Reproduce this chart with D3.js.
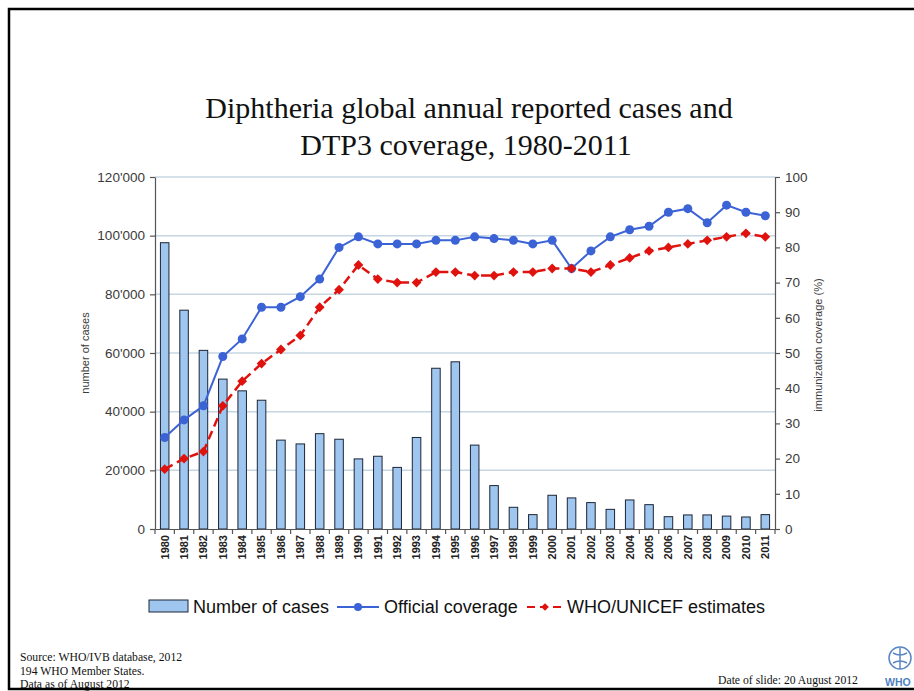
<!DOCTYPE html>
<html>
<head>
<meta charset="utf-8">
<script src="https://cdn.jsdelivr.net/npm/d3@7"></script>
<style>
  body { margin: 0; background: #fff; }
  svg { display: block; }
</style>
</head>
<body>
<script>
var width = 914;
var height = 691;

var margin = {top: 177, left: 155, right: 139, bottom: 162};

// data
var years = ["1980","1981","1982","1983","1984","1985","1986","1987","1988","1989",
             "1990","1991","1992","1993","1994","1995","1996","1997","1998","1999",
             "2000","2001","2002","2003","2004","2005","2006","2007","2008","2009",
             "2010","2011"];

var cases = [97600, 74600, 60900, 51100, 47100, 43900, 30300, 29000, 32500, 30600,
             23900, 24800, 21000, 31200, 54800, 57000, 28600, 14800, 7400, 4900,
             11500, 10600, 9000, 6700, 9900, 8300, 4200, 4800, 4800, 4400,
             4100, 4900];

var officialCoverage = [26, 31, 35, 49, 54, 63, 63, 66, 71, 80,
                        83, 81, 81, 81, 82, 82, 83, 82.5, 82, 81,
                        82, 74, 79, 83, 85, 86, 90, 91, 87, 92,
                        90, 89];

var whoUnicefEstimates = [17, 20, 22, 35, 42, 47, 51, 55, 63, 68,
                          75, 71, 70, 70, 73, 73, 72, 72, 73, 73,
                          74, 74, 73, 75, 77, 79, 80, 81, 82, 83,
                          84, 83];

var caseTicks = [0, 20000, 40000, 60000, 80000, 100000, 120000];
var coverageTicks = [0, 10, 20, 30, 40, 50, 60, 70, 80, 90, 100];

var svg = d3.select("body")
  .append("svg")
  .attr("width", width)
  .attr("height", height)
  .style("font-family", "'Liberation Sans', Arial, sans-serif");

// slide frame
svg.append("path")
  .attr("d", "M914,9 H9 V689 H914")
  .attr("fill", "none")
  .attr("stroke", "#000")
  .attr("stroke-width", 2.5);

// title
var title = svg.append("text")
  .attr("text-anchor", "middle")
  .style("font-family", "'Liberation Serif', 'Times New Roman', serif")
  .style("font-size", "30px")
  .attr("fill", "#111");
title.append("tspan").attr("x", 469).attr("y", 118)
  .text("Diphtheria global annual  reported cases and");
title.append("tspan").attr("x", 466).attr("y", 155)
  .text("DTP3 coverage, 1980-2011");

var xScale = d3.scaleBand()
  .domain(years)
  .range([margin.left, width - margin.right]);

var yCases = d3.scaleLinear()
  .domain([0, 120000])
  .range([height - margin.bottom, margin.top]);

var yCov = d3.scaleLinear()
  .domain([0, 100])
  .range([height - margin.bottom, margin.top]);

// gridlines
svg.append("g")
  .selectAll("line")
  .data(caseTicks.slice(1))
  .enter()
  .append("line")
    .attr("x1", margin.left)
    .attr("x2", width - margin.right)
    .attr("y1", function(d) { return yCases(d); })
    .attr("y2", function(d) { return yCases(d); })
    .attr("stroke", "#c6d6e3")
    .attr("stroke-width", 1.5);

// bars
var barWidth = xScale.bandwidth() * 0.44;
svg.append("g")
  .selectAll("rect")
  .data(cases)
  .enter()
  .append("rect")
    .attr("x", function(d, i) { return xScale(years[i]) + xScale.bandwidth()/2 - barWidth/2; })
    .attr("y", function(d) { return yCases(d); })
    .attr("width", barWidth)
    .attr("height", function(d) { return yCases(0) - yCases(d); })
    .attr("fill", "#9ec6ee")
    .attr("stroke", "#1d2535")
    .attr("stroke-width", 1);

function fmt(d) { return d3.format(",")(d).replace(/,/g, "'"); }

// left axis
var leftAxis = svg.append("g")
  .attr("transform", "translate(" + margin.left + ",0)")
  .call(d3.axisLeft(yCases).tickValues(caseTicks).tickFormat(fmt)
        .tickSizeInner(5).tickSizeOuter(0).tickPadding(5));

// right axis
var rightAxis = svg.append("g")
  .attr("transform", "translate(" + (width - margin.right) + ",0)")
  .call(d3.axisRight(yCov).tickValues(coverageTicks)
        .tickSizeInner(5).tickSizeOuter(0).tickPadding(5));

[leftAxis, rightAxis].forEach(function(ax) {
  ax.selectAll("path, line").attr("stroke", "#555").attr("stroke-width", 1.2);
  ax.selectAll("text")
    .style("font-family", "'Liberation Sans', Arial, sans-serif")
    .style("font-size", "13.5px")
    .attr("fill", "#3a3a3a");
});

// bottom axis
var xAxis = svg.append("g")
  .attr("transform", "translate(0," + (height - margin.bottom) + ")")
  .call(d3.axisBottom(xScale).tickSize(0).tickPadding(0));
xAxis.select(".domain").attr("stroke", "#555").attr("stroke-width", 1.2);
xAxis.selectAll("text")
  .attr("transform", "rotate(-90)")
  .attr("x", -6)
  .attr("y", 0)
  .attr("dy", "0.35em")
  .attr("text-anchor", "end")
  .style("font-family", "'Liberation Sans', Arial, sans-serif")
  .style("font-size", "11px")
  .style("font-weight", "bold")
  .attr("fill", "#222");

// tick marks between categories
svg.append("g")
  .selectAll("line")
  .data(years.concat(["end"]))
  .enter()
  .append("line")
    .attr("x1", function(d) { return d === "end" ? xScale.range()[1] : xScale(d); })
    .attr("x2", function(d) { return d === "end" ? xScale.range()[1] : xScale(d); })
    .attr("y1", yCases(0))
    .attr("y2", yCases(0) + 5)
    .attr("stroke", "#555")
    .attr("stroke-width", 1.2);

// axis titles
svg.append("text")
  .attr("transform", "translate(89," + ((margin.top + height - margin.bottom)/2) + ") rotate(-90)")
  .attr("text-anchor", "middle")
  .style("font-size", "11px")
  .attr("fill", "#3a3a3a")
  .text("number of cases");

svg.append("text")
  .attr("transform", "translate(822," + ((margin.top + height - margin.bottom)/2 - 8) + ") rotate(-90)")
  .attr("text-anchor", "middle")
  .style("font-size", "11px")
  .attr("fill", "#3a3a3a")
  .text("immunization coverage (%)");

function cx(i) { return xScale(years[i]) + xScale.bandwidth()/2; }

// official coverage line
var blue = "#3b63d6";
var red = "#e0120e";

svg.append("path")
  .datum(officialCoverage)
  .attr("d", d3.line().x(function(d, i) { return cx(i); }).y(function(d) { return yCov(d); }))
  .attr("fill", "none")
  .attr("stroke", blue)
  .attr("stroke-width", 2);

svg.append("g")
  .selectAll("circle")
  .data(officialCoverage)
  .enter()
  .append("circle")
    .attr("cx", function(d, i) { return cx(i); })
    .attr("cy", function(d) { return yCov(d); })
    .attr("r", 4.5)
    .attr("fill", blue);

// WHO/UNICEF estimates line
svg.append("path")
  .datum(whoUnicefEstimates)
  .attr("d", d3.line().x(function(d, i) { return cx(i); }).y(function(d) { return yCov(d); }))
  .attr("fill", "none")
  .attr("stroke", red)
  .attr("stroke-width", 2.5)
  .attr("stroke-dasharray", "9,5");

var diamond = d3.symbol().type(d3.symbolSquare).size(48);
svg.append("g")
  .selectAll("path")
  .data(whoUnicefEstimates)
  .enter()
  .append("path")
    .attr("d", diamond)
    .attr("transform", function(d, i) { return "translate(" + cx(i) + "," + yCov(d) + ") rotate(45)"; })
    .attr("fill", red);

// legend
var legend = svg.append("g").style("font-size", "18px");
legend.append("rect")
  .attr("x", 149).attr("y", 600).attr("width", 39).attr("height", 12)
  .attr("fill", "#9ec6ee").attr("stroke", "#1d2535");
legend.append("text").attr("x", 193).attr("y", 613).attr("fill", "#111").text("Number of cases");

legend.append("line").attr("x1", 337).attr("x2", 379).attr("y1", 607).attr("y2", 607)
  .attr("stroke", blue).attr("stroke-width", 2);
legend.append("circle").attr("cx", 358).attr("cy", 607).attr("r", 4).attr("fill", blue);
legend.append("text").attr("x", 384).attr("y", 613).attr("fill", "#111").text("Official coverage");

legend.append("line").attr("x1", 527).attr("x2", 562).attr("y1", 607).attr("y2", 607)
  .attr("stroke", red).attr("stroke-width", 2).attr("stroke-dasharray", "8,5");
legend.append("path").attr("d", d3.symbol().type(d3.symbolSquare).size(30))
  .attr("transform", "translate(545,607) rotate(45)").attr("fill", red);
legend.append("text").attr("x", 567).attr("y", 613).attr("fill", "#111").text("WHO/UNICEF estimates");

// footer
var foot = svg.append("g")
  .style("font-family", "'Liberation Serif', 'Times New Roman', serif")
  .style("font-size", "11.7px")
  .attr("fill", "#111");
foot.append("text").attr("x", 20).attr("y", 661).text("Source:  WHO/IVB database,  2012");
foot.append("text").attr("x", 20).attr("y", 675).text("194 WHO Member States.");
foot.append("text").attr("x", 20).attr("y", 688).text("Data as of August 2012");
foot.append("text").attr("x", 718).attr("y", 684).text("Date of slide:  20 August 2012");

// WHO emblem
var logo = svg.append("g").attr("fill", "none").attr("stroke", "#5b86c4");
logo.append("circle").attr("cx", 900).attr("cy", 658).attr("r", 11).attr("stroke-width", 1.5);
logo.append("path").attr("d", "M900,648 V669 M893,653 Q900,657 907,653 M893,663 Q900,659 907,663")
  .attr("stroke-width", 1.5);
svg.append("text").attr("x", 885).attr("y", 686)
  .style("font-size", "10.5px").style("font-weight", "bold")
  .attr("fill", "#4f7fc2").text("WHO");
</script>
</body>
</html>
